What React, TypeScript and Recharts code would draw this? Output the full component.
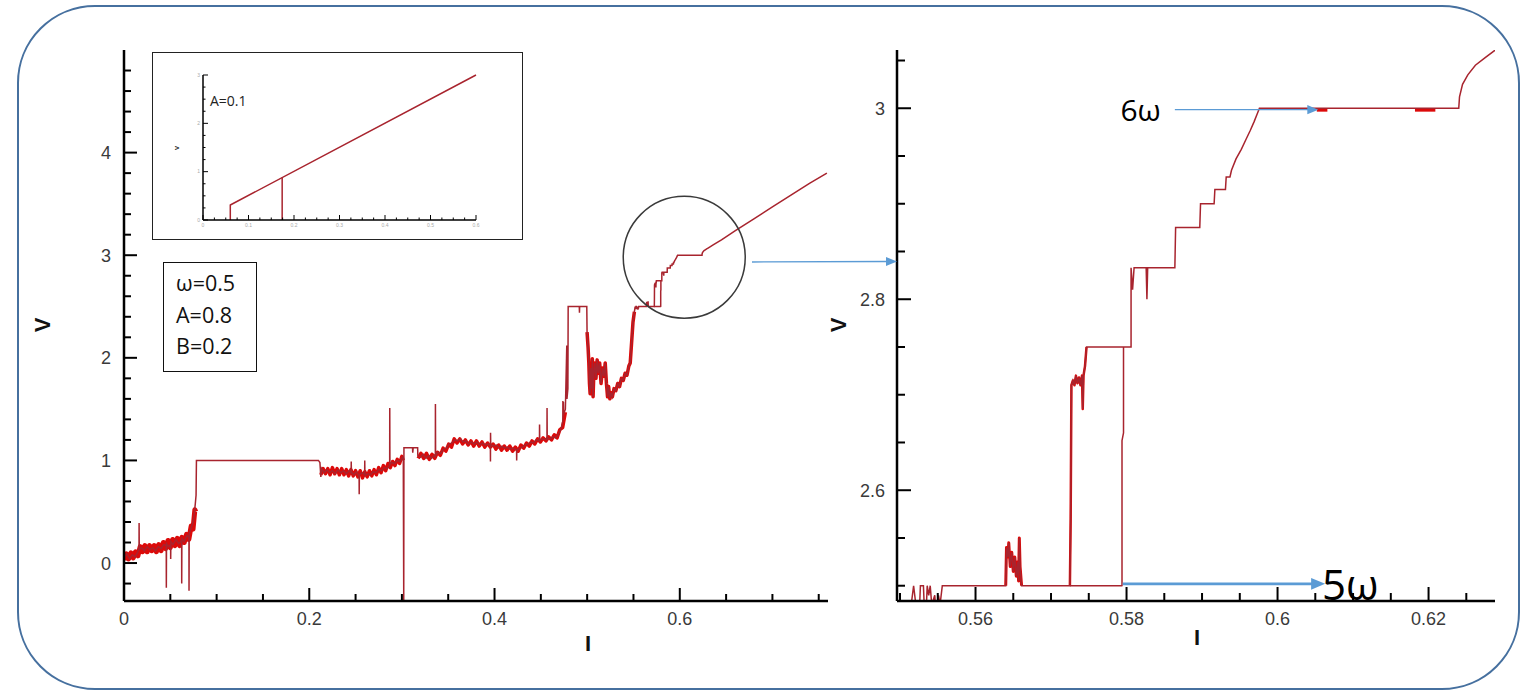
import React from "react";
import { LineChart, Line, XAxis, YAxis, ReferenceDot, ReferenceLine, Label } from "recharts";

type Pt = [number, number];

// ---- I-V trace (omega=0.5, A=0.8, B=0.2), pieces in order of I ----
const rampTrace: Pt[] = [
  [0.0, 0.05], [0.003, 0.09], [0.006, 0.04], [0.009, 0.08], [0.012, 0.06], [0.015, 0.11],
  [0.0162, 0.15], [0.0163, 0.39], [0.0165, 0.13], [0.019, 0.15], [0.022, 0.12], [0.025, 0.16],
  [0.028, 0.13], [0.031, 0.15], [0.034, 0.12], [0.037, 0.16], [0.04, 0.14], [0.043, 0.18],
  [0.0456, 0.17], [0.0457, -0.24], [0.0459, 0.19], [0.048, 0.16], [0.0503, 0.18], [0.0504, 0.04],
  [0.0506, 0.21], [0.053, 0.18], [0.056, 0.23], [0.059, 0.19], [0.0622, 0.22], [0.0623, -0.2],
  [0.0625, 0.24], [0.065, 0.21], [0.068, 0.27], [0.0701, 0.25], [0.0702, -0.27], [0.0704, 0.29],
  [0.072, 0.33], [0.074, 0.38], [0.0755, 0.45], [0.077, 0.58], [0.0778, 0.66], [0.0782, 1.0],
];
const firstStep: Pt[] = [[0.2099, 1.0]];
const dipTrace: Pt[] = [
  [0.2115, 0.98], [0.2125, 0.84], [0.2135, 0.92], [0.216, 0.88], [0.219, 0.91], [0.222, 0.88],
  [0.225, 0.9], [0.228, 0.87], [0.231, 0.91], [0.234, 0.88], [0.237, 0.9], [0.24, 0.87],
  [0.243, 0.9], [0.2452, 0.88], [0.2453, 0.99], [0.2455, 0.89], [0.248, 0.86], [0.251, 0.89],
  [0.2538, 0.85], [0.2539, 0.67], [0.2541, 0.86], [0.257, 0.88], [0.2598, 0.86], [0.2599, 1.0],
  [0.2601, 0.85], [0.263, 0.87], [0.266, 0.86], [0.269, 0.89], [0.272, 0.88], [0.275, 0.91],
  [0.278, 0.9], [0.281, 0.93], [0.284, 0.92], [0.2868, 0.95], [0.2869, 1.51], [0.2871, 0.96],
  [0.289, 0.98], [0.292, 0.97], [0.295, 1.0], [0.298, 0.99], [0.3005, 1.03], [0.3015, 1.02],
  [0.302, -0.37], [0.3022, 1.124], [0.3115, 1.124], [0.3117, 1.075], [0.3122, 1.124],
  [0.317, 1.124], [0.3172, 1.05],
];
const riseTrace: Pt[] = [
  [0.32, 1.03], [0.323, 1.06], [0.326, 1.02], [0.329, 1.05], [0.332, 1.02], [0.335, 1.05],
  [0.3361, 1.04], [0.3362, 1.55], [0.3364, 1.05], [0.339, 1.08], [0.342, 1.07], [0.345, 1.11],
  [0.348, 1.12], [0.351, 1.16], [0.354, 1.17], [0.357, 1.2], [0.36, 1.19], [0.363, 1.21],
  [0.366, 1.18], [0.369, 1.19], [0.372, 1.16], [0.375, 1.18], [0.378, 1.16], [0.381, 1.18],
  [0.384, 1.15], [0.387, 1.17], [0.39, 1.15], [0.393, 1.16], [0.3955, 1.15], [0.3956, 0.99],
  [0.3957, 1.27], [0.3959, 1.15], [0.399, 1.14], [0.402, 1.15], [0.405, 1.12], [0.408, 1.14],
  [0.411, 1.12], [0.414, 1.13], [0.417, 1.11], [0.42, 1.12], [0.4238, 1.1], [0.4239, 1.0],
  [0.4241, 1.1], [0.427, 1.12], [0.43, 1.13], [0.433, 1.15], [0.436, 1.16], [0.439, 1.18],
  [0.442, 1.17], [0.445, 1.2], [0.4485, 1.19], [0.4486, 1.35], [0.4488, 1.2], [0.452, 1.21],
  [0.4566, 1.2], [0.4567, 1.51], [0.4569, 1.22], [0.46, 1.21], [0.463, 1.23], [0.466, 1.22],
  [0.469, 1.26], [0.4715, 1.3], [0.4737, 1.38], [0.4738, 1.58], [0.474, 1.42], [0.4744, 1.57],
  [0.4746, 1.45], [0.4765, 1.5], [0.478, 2.12], [0.4782, 1.6], [0.4792, 1.7], [0.4795, 2.5],
];
const step5: Pt[] = [[0.4915, 2.5], [0.4917, 2.44], [0.4919, 2.5], [0.4996, 2.5]];
const dropNoise: Pt[] = [
  [0.4999, 2.25], [0.501, 2.1], [0.5018, 1.95], [0.5025, 1.75], [0.5032, 1.65], [0.504, 1.9],
  [0.5048, 1.7], [0.5056, 1.99], [0.5064, 1.62], [0.5072, 1.85], [0.5082, 1.95], [0.5095, 1.8],
  [0.5108, 1.98], [0.512, 1.85], [0.5135, 1.95], [0.515, 1.75], [0.5165, 1.9], [0.518, 1.82],
  [0.5195, 1.95], [0.5208, 1.75], [0.522, 1.62], [0.5232, 1.72], [0.5245, 1.6], [0.5258, 1.66],
  [0.5272, 1.62], [0.529, 1.7], [0.531, 1.68], [0.533, 1.75], [0.535, 1.72], [0.537, 1.8],
  [0.539, 1.78], [0.541, 1.85], [0.543, 1.83], [0.545, 1.92], [0.5465, 1.95], [0.548, 2.15],
  [0.5495, 2.35], [0.551, 2.45],
];
const startBits: Pt[] = [
  [0.5518, 2.5], [0.5521, 2.48], [0.5526, 2.48], [0.5527, 2.5], [0.5531, 2.5], [0.5532, 2.48],
  [0.5535, 2.48], [0.5536, 2.5], [0.5538, 2.49], [0.554, 2.5], [0.5542, 2.48], [0.5546, 2.49],
  [0.5548, 2.47], [0.5551, 2.49], [0.5553, 2.48], [0.5556, 2.5], [0.564, 2.5],
];
const cluster565: Pt[] = [
  [0.564, 2.5], [0.5641, 2.54], [0.5643, 2.53], [0.5644, 2.545], [0.5646, 2.52], [0.5648, 2.535],
  [0.565, 2.515], [0.5652, 2.53], [0.5654, 2.51], [0.5656, 2.525], [0.5657, 2.505], [0.5658, 2.55],
  [0.5659, 2.52], [0.5661, 2.5],
];
const jump573: Pt[] = [
  [0.5725, 2.5], [0.5726, 2.57], [0.5727, 2.71], [0.5729, 2.715], [0.5731, 2.71], [0.5733, 2.72],
  [0.5735, 2.712], [0.5737, 2.718], [0.5739, 2.71], [0.5741, 2.72], [0.5742, 2.685], [0.5743, 2.72],
  [0.5745, 2.73], [0.5747, 2.75],
];
const staircase: Pt[] = [
  [0.5806, 2.75], [0.5806, 2.833], [0.5808, 2.81], [0.581, 2.833], [0.5826, 2.833], [0.5827, 2.8],
  [0.5828, 2.833], [0.5864, 2.833], [0.5865, 2.875], [0.5897, 2.875], [0.5898, 2.9], [0.5916, 2.9],
  [0.5917, 2.915], [0.5931, 2.915], [0.5932, 2.928], [0.5937, 2.928], [0.5939, 2.935],
  [0.5945, 2.947], [0.5952, 2.957], [0.5958, 2.967], [0.5964, 2.977], [0.5969, 2.986],
  [0.5973, 2.994], [0.5976, 3.0], [0.624, 3.0], [0.6241, 3.012], [0.6245, 3.025], [0.6252, 3.035],
  [0.6262, 3.045], [0.6275, 3.053], [0.629, 3.062],
];
const tail: Pt[] = [
  [0.6305, 3.07], [0.636, 3.1], [0.645, 3.15], [0.66, 3.24], [0.68, 3.355], [0.7, 3.47],
  [0.72, 3.585], [0.74, 3.7], [0.7588, 3.8],
];
// return branch of the hysteresis loop
const lowerBranch: Pt[] = [[0.5725, 2.5], [0.5794, 2.5], [0.5794, 2.652], [0.5796, 2.66], [0.5796, 2.75]];

// thick noisy bands (read as zigzags of the band edges)
const bandRamp: Pt[] = [
  [0.0, 0.03], [0.0025, 0.09], [0.005, 0.04], [0.0075, 0.1], [0.01, 0.05], [0.0125, 0.11],
  [0.015, 0.07], [0.0175, 0.16], [0.02, 0.11], [0.0225, 0.17], [0.025, 0.11], [0.0275, 0.17],
  [0.03, 0.12], [0.0325, 0.17], [0.035, 0.11], [0.0375, 0.18], [0.04, 0.12], [0.0425, 0.2],
  [0.045, 0.14], [0.0475, 0.22], [0.05, 0.15], [0.0525, 0.23], [0.055, 0.17], [0.0575, 0.24],
  [0.06, 0.17], [0.0625, 0.25], [0.065, 0.2], [0.0675, 0.28], [0.07, 0.23], [0.0725, 0.36],
  [0.0745, 0.33], [0.0765, 0.52], [0.0775, 0.5],
];
const bandDip: Pt[] = [
  [0.2125, 0.86], [0.215, 0.92], [0.2175, 0.87], [0.22, 0.92], [0.2225, 0.86], [0.225, 0.93],
  [0.2275, 0.87], [0.23, 0.92], [0.2325, 0.86], [0.235, 0.92], [0.2375, 0.86], [0.24, 0.91],
  [0.2425, 0.85], [0.245, 0.91], [0.2475, 0.85], [0.25, 0.9], [0.2525, 0.84], [0.255, 0.9],
  [0.2575, 0.83], [0.26, 0.89], [0.2625, 0.84], [0.265, 0.9], [0.2675, 0.85], [0.27, 0.91],
  [0.2725, 0.86], [0.275, 0.93], [0.2775, 0.88], [0.28, 0.95], [0.2825, 0.9], [0.285, 0.97],
  [0.2875, 0.93], [0.29, 0.99], [0.2925, 0.95], [0.295, 1.01], [0.2975, 0.97], [0.3, 1.04],
  [0.3015, 1.0],
];
const bandRise: Pt[] = [
  [0.3175, 1.02], [0.3205, 1.07], [0.3235, 1.02], [0.3265, 1.07], [0.3295, 1.01], [0.3325, 1.06],
  [0.3355, 1.02], [0.3385, 1.08], [0.3415, 1.05], [0.3445, 1.12], [0.3475, 1.09], [0.3505, 1.16],
  [0.3535, 1.13], [0.3565, 1.21], [0.3595, 1.17], [0.3625, 1.21], [0.3655, 1.16], [0.3685, 1.2],
  [0.3715, 1.15], [0.3745, 1.19], [0.3775, 1.14], [0.3805, 1.19], [0.3835, 1.14], [0.3865, 1.18],
  [0.3895, 1.13], [0.3925, 1.17], [0.3955, 1.13], [0.3985, 1.16], [0.4015, 1.11], [0.4045, 1.15],
  [0.4075, 1.1], [0.4105, 1.14], [0.4135, 1.1], [0.4165, 1.14], [0.4195, 1.09], [0.4225, 1.13],
  [0.4255, 1.09], [0.4285, 1.15], [0.4315, 1.12], [0.4345, 1.17], [0.4375, 1.14], [0.4405, 1.19],
  [0.4435, 1.16], [0.4465, 1.21], [0.4495, 1.18], [0.4525, 1.22], [0.4555, 1.19], [0.4585, 1.23],
  [0.4615, 1.2], [0.4645, 1.25], [0.4675, 1.22], [0.4705, 1.3], [0.4735, 1.32], [0.4765, 1.47],
];
const plateauBitsA: Pt[] = [[0.6052, 2.998], [0.6066, 2.998]];
const plateauBitsB: Pt[] = [[0.6182, 2.998], [0.6209, 2.998]];

// inset, A=0.1
const insetMain: Pt[] = [[0.06, 0], [0.06, 0.31], [0.6, 3.0]];
const insetDrop: Pt[] = [[0.174, 0], [0.174, 0.88]];

// axes
const leftVTicks = [-0.2, 0, 0.2, 0.4, 0.6, 0.8, 1, 1.2, 1.4, 1.6, 1.8, 2, 2.2, 2.4, 2.6, 2.8, 3, 3.2, 3.4, 3.6, 3.8, 4, 4.2, 4.4, 4.6, 4.8];
const leftVMajor = [0, 1, 2, 3, 4];
const leftITicks = [0, 0.05, 0.1, 0.15, 0.2, 0.25, 0.3, 0.35, 0.4, 0.45, 0.5, 0.55, 0.6, 0.65, 0.7, 0.75];
const leftIMajor = [0, 0.2, 0.4, 0.6];
const rightVTicks = [2.5, 2.55, 2.6, 2.65, 2.7, 2.75, 2.8, 2.85, 2.9, 2.95, 3, 3.05];
const rightVMajor = [2.6, 2.8, 3];
const rightITicks = [0.55, 0.555, 0.56, 0.565, 0.57, 0.575, 0.58, 0.585, 0.59, 0.595, 0.6, 0.605, 0.61, 0.615, 0.62, 0.625];
const rightIMajor = [0.56, 0.58, 0.6, 0.62];
const insetVTicks = [0, 0.25, 0.5, 0.75, 1, 1.25, 1.5, 1.75, 2, 2.25, 2.5, 2.75, 3];
const insetVMajor = [0, 1, 2, 3];
const insetITicks = [0, 0.025, 0.05, 0.075, 0.1, 0.125, 0.15, 0.175, 0.2, 0.225, 0.25, 0.275, 0.3, 0.325, 0.35, 0.375, 0.4, 0.425, 0.45, 0.475, 0.5, 0.525, 0.55, 0.575, 0.6];
const insetIMajor = [0, 0.1, 0.2, 0.3, 0.4, 0.5, 0.6];

const rows = (pts: Pt[]) => pts.map(([I, V]) => ({ I, V }));

const fullTrace = rows([
  ...rampTrace, ...firstStep, ...dipTrace, ...riseTrace, ...step5, ...dropNoise,
  ...startBits, ...cluster565, ...jump573, ...staircase, ...tail,
]);

const THIN = "#a8242e";
const NOISE = "#dc0a0a";
const ARROW = "#5b9bd5";
const tickFont = { fontFamily: "'Liberation Sans', Arial, sans-serif", fontSize: 18, fill: "#3a3a3a" };

const isIn = (list: number[], v: number) => list.some((m) => Math.abs(m - v) < 1e-6);

const yTick = (majors: number[], big: number, small: number, w: number, font: any, gap: number) => (p: any) => {
  const v = p.payload.value as number;
  const major = isIn(majors, v);
  return (
    <g>
      <line x1={p.x} y1={p.y} x2={p.x + (major ? big : small)} y2={p.y} stroke="#000" strokeWidth={w} />
      {major && font && (
        <text x={p.x - gap} y={p.y + font.fontSize * 0.36} textAnchor="end" {...font}>
          {v}
        </text>
      )}
    </g>
  );
};

const xTick = (majors: number[], big: number, small: number, w: number, font: any, gap: number) => (p: any) => {
  const v = p.payload.value as number;
  const major = isIn(majors, v);
  return (
    <g>
      <line x1={p.x} y1={p.y} x2={p.x} y2={p.y - (major ? big : small)} stroke="#000" strokeWidth={w} />
      {major && font && (
        <text x={p.x} y={p.y + gap} textAnchor="middle" {...font}>
          {v}
        </text>
      )}
    </g>
  );
};

const axisLetter = (text: string, dx: number, dy: number, rotate: boolean, size = 22) => (p: any) => {
  const vb = p.viewBox;
  const x = vb.x + dx;
  const y = vb.y + dy;
  return (
    <text
      x={x}
      y={y}
      textAnchor="middle"
      dominantBaseline="central"
      transform={rotate ? `rotate(-90 ${x} ${y})` : undefined}
      fontFamily="'Liberation Sans', Arial, sans-serif"
      fontWeight="bold"
      fontSize={size}
      fill="#111"
    >
      {text}
    </text>
  );
};

const arrowShape = (text: string, fontSize: number, lineW: number, head: number, textAfter: boolean) => (p: any) => {
  const { x1, y1, x2, y2 } = p;
  return (
    <g>
      <line x1={x1} y1={y1} x2={x2 - head + 1} y2={y2} stroke={ARROW} strokeWidth={lineW} />
      <polygon points={`${x2},${y2} ${x2 - head},${y2 - head * 0.42} ${x2 - head},${y2 + head * 0.42}`} fill={ARROW} />
      <text
        x={textAfter ? x2 - 3 : x1 - 14}
        y={y1}
        textAnchor={textAfter ? "start" : "end"}
        dominantBaseline="central"
        fontFamily="'Open Sans', sans-serif"
        fontSize={fontSize}
        fill="#000"
      >
        {text}
      </text>
    </g>
  );
};

const line = (pts: Pt[], color: string, width: number, key: string) => (
  <Line
    key={key}
    data={rows(pts)}
    dataKey="V"
    type="linear"
    stroke={color}
    strokeWidth={width}
    dot={false}
    isAnimationActive={false}
    strokeLinejoin="round"
  />
);

const LeftChart = () => (
  <LineChart width={850} height={694} margin={{ top: 50, right: 22, left: 64, bottom: 53 }}>
    <XAxis
      dataKey="I"
      type="number"
      domain={[0, 0.76]}
      allowDataOverflow
      ticks={leftITicks}
      interval={0}
      tickSize={0}
      tickMargin={0}
      tickLine={false}
      height={40}
      axisLine={{ stroke: "#000", strokeWidth: 2.5 }}
      tick={xTick(leftIMajor, 13, 7, 2, tickFont, 24)}
    >
      <Label content={axisLetter("I", 464, 42, false)} />
    </XAxis>
    <YAxis
      dataKey="V"
      type="number"
      domain={[-0.37, 5.0]}
      allowDataOverflow
      ticks={leftVTicks}
      interval={0}
      tickSize={0}
      tickMargin={0}
      tickLine={false}
      width={60}
      axisLine={{ stroke: "#000", strokeWidth: 2.5 }}
      tick={yTick(leftVMajor, 13, 7, 2, tickFont, 13)}
    >
      <Label content={axisLetter("V", -22, 275, true)} />
    </YAxis>
    {line(bandRamp, NOISE, 5, "b1")}
    {line(bandDip, NOISE, 3.5, "b2")}
    {line(bandRise, NOISE, 3.5, "b3")}
    {line(dropNoise, NOISE, 3.5, "b4")}
    <Line data={fullTrace} dataKey="V" type="linear" stroke={THIN} strokeWidth={1.5} dot={false} isAnimationActive={false} />
    {line(lowerBranch, THIN, 1.5, "lb")}
    <ReferenceDot x={0.6048} y={2.98} r={61} fill="none" stroke="#3a3a3a" strokeWidth={1.5} ifOverflow="visible" />
  </LineChart>
);

const RightChart = () => (
  <LineChart width={709} height={694} margin={{ top: 50, right: 34, left: 37, bottom: 53 }}>
    <XAxis
      dataKey="I"
      type="number"
      domain={[0.5496, 0.6288]}
      allowDataOverflow
      ticks={rightITicks}
      interval={0}
      tickSize={0}
      tickMargin={0}
      tickLine={false}
      height={40}
      axisLine={{ stroke: "#000", strokeWidth: 2.5 }}
      tick={xTick(rightIMajor, 14, 8, 2, tickFont, 24)}
    >
      <Label content={axisLetter("I", 300, 36, false)} />
    </XAxis>
    <YAxis
      dataKey="V"
      type="number"
      domain={[2.484, 3.061]}
      allowDataOverflow
      ticks={rightVTicks}
      interval={0}
      tickSize={0}
      tickMargin={0}
      tickLine={false}
      width={40}
      axisLine={{ stroke: "#000", strokeWidth: 2.5 }}
      tick={yTick(rightVMajor, 14, 8, 2, tickFont, 12)}
    >
      <Label content={axisLetter("V", -19, 275, true)} />
    </YAxis>
    {line(cluster565, NOISE, 3, "c1")}
    {line(jump573, NOISE, 2.5, "c2")}
    {line(plateauBitsA, NOISE, 3, "c3")}
    {line(plateauBitsB, NOISE, 3, "c4")}
    <Line data={fullTrace} dataKey="V" type="linear" stroke={THIN} strokeWidth={1.5} dot={false} isAnimationActive={false} />
    {line(lowerBranch, THIN, 1.5, "lb")}
    <ReferenceLine segment={[{ x: 0.5864, y: 2.9985 }, { x: 0.6054, y: 2.9985 }]} shape={arrowShape("6ω", 30, 1.3, 11, false)} />
    <ReferenceLine segment={[{ x: 0.5795, y: 2.502 }, { x: 0.6063, y: 2.502 }]} shape={arrowShape("5ω", 42, 2.8, 14, true)} />
  </LineChart>
);

const insetFont = { fontFamily: "'Liberation Sans', Arial, sans-serif", fontSize: 5, fill: "#aaa" };

const InsetChart = () => (
  <LineChart width={371} height={188} margin={{ top: 23, right: 47, left: 31, bottom: 8 }}>
    <XAxis
      dataKey="I"
      type="number"
      domain={[0, 0.6]}
      ticks={insetITicks}
      interval={0}
      tickSize={0}
      tickMargin={0}
      tickLine={false}
      height={12}
      axisLine={{ stroke: "#000", strokeWidth: 1.5 }}
      tick={xTick(insetIMajor, 5, 2.5, 1, insetFont, 7)}
    />
    <YAxis
      dataKey="V"
      type="number"
      domain={[0, 3]}
      ticks={insetVTicks}
      interval={0}
      tickSize={0}
      tickMargin={0}
      tickLine={false}
      width={20}
      axisLine={{ stroke: "#000", strokeWidth: 1.5 }}
      tick={yTick(insetVMajor, 5, 2.5, 1, insetFont, 3)}
    >
      <Label content={axisLetter("V", -6, 73, true, 6)} />
    </YAxis>
    {line(insetMain, THIN, 1.5, "im")}
    {line(insetDrop, THIN, 1.5, "id")}
  </LineChart>
);

export default function App() {
  return (
    <div style={{ position: "absolute", left: 0, top: 0, width: 1529, height: 694, background: "#fff", overflow: "hidden" }}>
      <div
        style={{
          position: "absolute",
          left: 17,
          top: 5,
          width: 1503,
          height: 685,
          border: "2px solid #46709f",
          borderRadius: 78,
          boxSizing: "border-box",
        }}
      />
      <div style={{ position: "absolute", left: 0, top: 0 }}>
        <LeftChart />
      </div>
      <div style={{ position: "absolute", left: 820, top: 0 }}>
        <RightChart />
      </div>
      <div
        style={{
          position: "absolute",
          left: 152,
          top: 52,
          width: 371,
          height: 188,
          border: "1.5px solid #222",
          boxSizing: "border-box",
          background: "#fff",
        }}
      >
        <div style={{ position: "absolute", left: -1.5, top: -1.5 }}>
          <InsetChart />
        </div>
        <div style={{ position: "absolute", left: 57, top: 38, fontFamily: "'Open Sans', sans-serif", fontSize: 14, color: "#222" }}>
          A=0.1
        </div>
      </div>
      <div
        style={{
          position: "absolute",
          left: 163,
          top: 262,
          width: 94,
          height: 110,
          border: "1.5px solid #111",
          boxSizing: "border-box",
          background: "#fff",
          fontFamily: "'Open Sans', sans-serif",
          fontSize: 21.5,
          lineHeight: "31.7px",
          padding: "4px 0 0 12px",
          color: "#111",
          whiteSpace: "nowrap",
        }}
      >
        <div>ω=0.5</div>
        <div>A=0.8</div>
        <div>B=0.2</div>
      </div>
      <svg width={1529} height={694} style={{ position: "absolute", left: 0, top: 0, pointerEvents: "none" }}>
        <line x1={752} y1={262} x2={887} y2={261.5} stroke={ARROW} strokeWidth={1.3} />
        <polygon points="897,261.5 886,257 886,266" fill={ARROW} />
      </svg>
    </div>
  );
}
